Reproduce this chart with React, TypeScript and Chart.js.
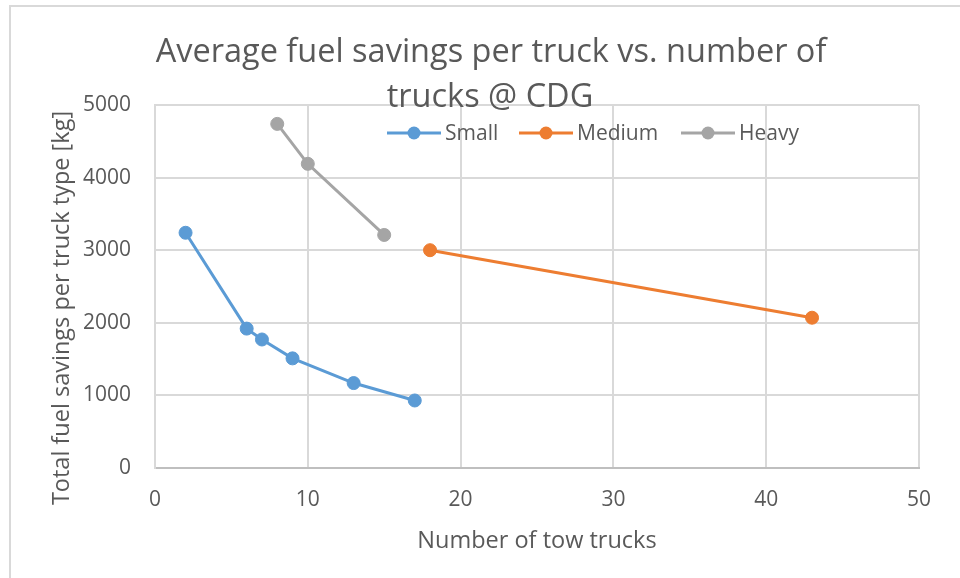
import React, { useEffect, useRef } from "react";
import { Chart, registerables } from "chart.js";

Chart.register(...registerables);

const titleLines = ["Average fuel savings per truck vs. number of", "trucks @ CDG"];
const xTitle = "Number of tow trucks";
const yTitle = "Total fuel savings per truck type [kg]";

const seriesNames = ["Small", "Medium", "Heavy"];
const seriesColors = ["#5b9bd5", "#ed7d31", "#a5a5a5"];

const smallX = [2, 6, 7, 9, 13, 17];
const smallY = [3240, 1920, 1770, 1510, 1170, 930];
const mediumX = [18, 43];
const mediumY = [3000, 2070];
const heavyX = [8, 10, 15];
const heavyY = [4740, 4190, 3210];

const xMin = 0, xMax = 50, xStep = 10;
const yMin = 0, yMax = 5000, yStep = 1000;

const FONT = "'Open Sans', 'DejaVu Sans', sans-serif";
const TEXT = "#595959";
const GRID = "#d9d9d9";

const toPts = (xs: number[], ys: number[]) => xs.map((x, i) => ({ x, y: ys[i] }));

const decorPlugin = {
  id: "decor",
  beforeDraw(chart: any) {
    const ctx = chart.ctx;
    ctx.save();
    ctx.fillStyle = "#ffffff";
    ctx.fillRect(0, 0, chart.width, chart.height);
    ctx.strokeStyle = GRID;
    ctx.lineWidth = 2;
    ctx.beginPath();
    ctx.moveTo(10, chart.height);
    ctx.lineTo(10, 6);
    ctx.lineTo(chart.width, 6);
    ctx.stroke();
    ctx.restore();
  },
  afterDraw(chart: any) {
    const ctx = chart.ctx;
    const area = chart.chartArea;
    ctx.save();
    // Title
    ctx.fillStyle = TEXT;
    ctx.font = `32.5px ${FONT}`;
    ctx.textAlign = "center";
    ctx.textBaseline = "alphabetic";
    ctx.fillText(titleLines[0], 491, 62);
    ctx.fillText(titleLines[1], 490, 107);
    // Axis titles
    ctx.font = `23.5px ${FONT}`;
    ctx.textBaseline = "middle";
    ctx.fillText(xTitle, (area.left + area.right) / 2, 541);
    ctx.save();
    ctx.translate(62, 308);
    ctx.rotate(-Math.PI / 2);
    ctx.fillText(yTitle, 0, 0);
    ctx.restore();
    // Legend
    ctx.font = `21px ${FONT}`;
    const starts = [387, 519, 681];
    const ly = 133;
    chart.data.datasets.forEach((ds: any, i: number) => {
      const x0 = starts[i];
      ctx.strokeStyle = ds.borderColor;
      ctx.lineWidth = 3;
      ctx.beginPath();
      ctx.moveTo(x0, ly);
      ctx.lineTo(x0 + 54, ly);
      ctx.stroke();
      ctx.fillStyle = ds.backgroundColor;
      ctx.beginPath();
      ctx.arc(x0 + 27, ly, 6.5, 0, Math.PI * 2);
      ctx.fill();
      ctx.fillStyle = TEXT;
      ctx.textAlign = "left";
      ctx.textBaseline = "middle";
      ctx.fillText(ds.label, x0 + 58, ly + 1);
    });
    ctx.restore();
  },
};

export default function App() {
  const ref = useRef<HTMLCanvasElement>(null);
  useEffect(() => {
    const xs = [smallX, mediumX, heavyX];
    const ys = [smallY, mediumY, heavyY];
    const chart = new Chart(ref.current!, {
      type: "scatter",
      data: {
        datasets: seriesNames.map((name, i) => ({
          label: name,
          data: toPts(xs[i], ys[i]),
          showLine: true,
          borderColor: seriesColors[i],
          backgroundColor: seriesColors[i],
          pointBackgroundColor: seriesColors[i],
          pointBorderColor: seriesColors[i],
          borderWidth: 3,
          pointRadius: 6.5,
          pointBorderWidth: 1,
        })),
      },
      options: {
        animation: false,
        responsive: false,
        maintainAspectRatio: false,
        layout: { padding: { left: 0, top: 105, right: 41, bottom: 0 } },
        plugins: {
          legend: { display: false },
          title: { display: false },
          tooltip: { enabled: false },
        },
        scales: {
          x: {
            type: "linear",
            min: xMin,
            max: xMax,
            afterFit: (s: any) => { s.height = 110; },
            ticks: { stepSize: xStep, color: TEXT, font: { family: FONT, size: 21 }, padding: 19, callback: (v: any) => String(v) },
            grid: { color: GRID, drawTicks: false, lineWidth: 2 },
            border: { color: "#bfbfbf", width: 2 },
          },
          y: {
            type: "linear",
            min: yMin,
            max: yMax,
            afterFit: (s: any) => { s.width = 155; },
            ticks: { stepSize: yStep, color: TEXT, font: { family: FONT, size: 21 }, padding: 24, callback: (v: any) => String(v) },
            grid: { color: GRID, drawTicks: false, lineWidth: 2 },
            border: { color: GRID, width: 2 },
          },
        },
      },
      plugins: [decorPlugin],
    } as any);
    return () => chart.destroy();
  }, []);
  return (
    <div style={{ position: "fixed", left: 0, top: 0, width: 960, height: 578 }}>
      <canvas ref={ref} width={960} height={578} style={{ width: 960, height: 578 }} />
    </div>
  );
}
